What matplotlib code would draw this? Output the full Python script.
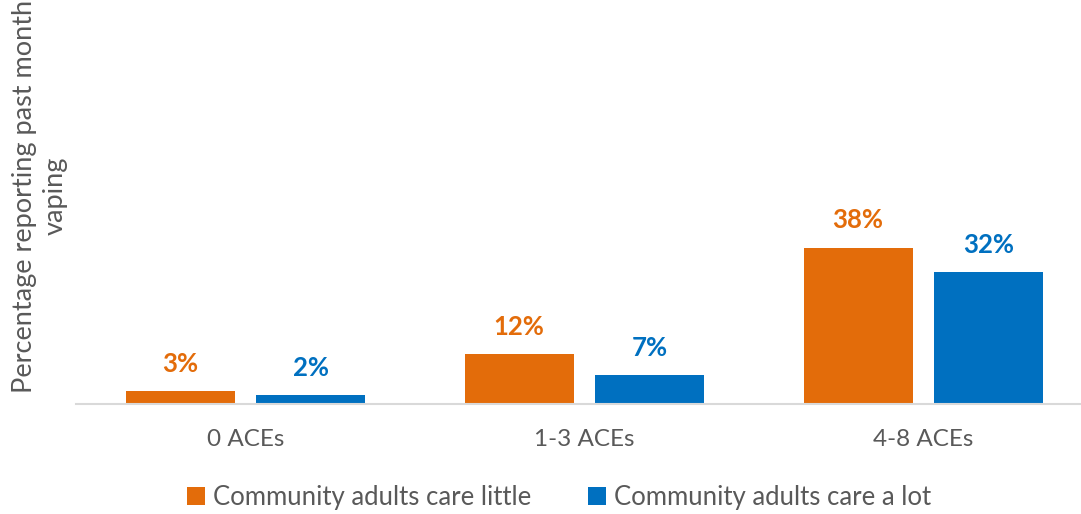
import matplotlib.pyplot as plt
import numpy as np

categories = ['0 ACEs', '1-3 ACEs', '4-8 ACEs']
care_little = [3, 12, 38]
care_lot = [2, 7, 32]
series_names = ['Community adults care little', 'Community adults care a lot']
colors = ['#E36C0A', '#0070C0']

plt.rcParams['font.family'] = ['Lato', 'DejaVu Sans']

W, H = 1081, 514
fig = plt.figure(figsize=(W / 100, H / 100), dpi=100)
# axes in pixel coords: left 76, right 1080, bottom y=403.5, top y=13
ax = fig.add_axes([76 / W, (H - 403.5) / H, 1004 / W, (403.5 - 13) / H])

x = np.arange(len(categories))
bw = 0.3215
off = 0.193
for vals, name, c, dx in [(care_little, series_names[0], colors[0], -off),
                          (care_lot, series_names[1], colors[1], off)]:
    bars = ax.bar(x + dx, vals, bw, color=c, label=name)
    for b, v in zip(bars, vals):
        ax.annotate(f'{v}%', (b.get_x() + b.get_width() / 2, v),
                    xytext=(0, 11), textcoords='offset points',
                    ha='center', va='bottom', color=c, fontsize=18.5, fontweight='bold')

ax.set_xlim(-0.5, -0.5 + 1004 / 339)
ax.set_ylim(0, 95.2)
ax.set_yticks([])
ax.set_xticks(x)
ax.set_xticklabels(categories, fontsize=17.5, color='#595959')
ax.tick_params(axis='x', length=0, pad=18)
for s in ['top', 'right', 'left']:
    ax.spines[s].set_visible(False)
ax.spines['bottom'].set_color('#D9D9D9')
ax.spines['bottom'].set_linewidth(1.5)

fig.text(40 / W, 1 - 196 / H, 'Percentage reporting past month\nvaping', rotation=90,
         ha='center', va='center', fontsize=19.5, color='#595959', linespacing=1.3)

fig.legend(loc='center', bbox_to_anchor=(559 / W, 1 - 497 / H), ncol=2, frameon=False,
           fontsize=18.5, labelcolor='#595959', handlelength=0.7, handleheight=0.7,
           handletextpad=0.3, columnspacing=2.2)

fig.savefig('out.png', dpi=100)
